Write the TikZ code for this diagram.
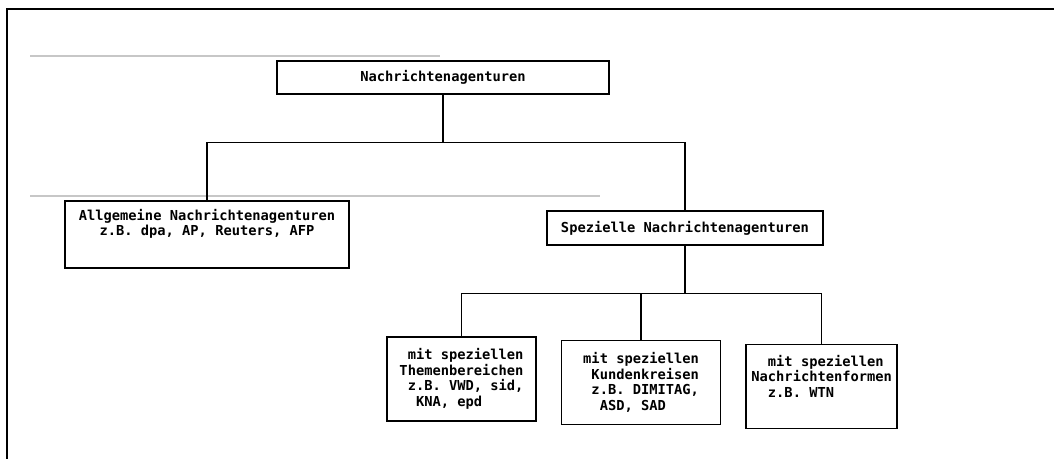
\documentclass[tikz,border=0pt]{standalone}
\usepackage{fontspec}
\setmonofont{DejaVu Sans Mono}
\usepackage{tikz}
\usetikzlibrary{positioning}
\newcommand{\chsp}{\phantom{x}}

\begin{document}
\begin{tikzpicture}[x=0.75pt, y=-0.75pt, line width=1pt, font=\ttfamily\bfseries\fontsize{10.3}{11.6}\selectfont]
  \tikzstyle{box} = [rectangle, draw, line width=1.2pt, inner sep=0pt, align=center]
  \tikzstyle{leaf} = [box, align=left, minimum width=111.75pt, minimum height=63pt]
  \tikzstyle{scanline} = [draw=black!22, line width=1.1pt]

  \useasboundingbox (0,0) rectangle (1054,459);
  \draw[line width=1.8pt] (7,459) -- (7,9) -- (1054,9);
  \draw[scanline] (30,56) -- (440,56);
  \draw[scanline] (30,196) -- (600,196);

  \node[box, minimum width=249pt, minimum height=24.75pt] (Agenturen) at (443,77.5) {Nachrichtenagenturen};
  \node[box, minimum width=213pt, minimum height=50.25pt] (Allgemeine) at (207,234.5) {Allgemeine Nachrichtenagenturen\\z.B. dpa, AP, Reuters, AFP\\[3pt] \strut};
  \node[box, minimum width=207pt, minimum height=25.5pt] (Spezielle) at (685,228) {Spezielle Nachrichtenagenturen};
  \node[leaf] (Themen) at (461.5,379) {\chsp mit speziellen\\Themenbereichen\\\chsp z.B. VWD, sid,\\\chsp\chsp KNA, epd};
  \node[leaf, minimum width=119.25pt] (Kunden) [right=18pt of Themen, yshift=-2.6pt] {mit speziellen\\\chsp Kundenkreisen\\\chsp z.B. DIMITAG,\\\chsp\chsp ASD, SAD};
  \node[leaf, minimum width=113.25pt] (Formen) [right=18pt of Kunden, yshift=-3pt] {\chsp\chsp mit speziellen\\Nachrichtenformen\\\chsp\chsp z.B. WTN\\ \strut};

  \draw (Agenturen.south) -- ++(0,48) -| (Allgemeine.north);
  \draw (Agenturen.south) -- ++(0,48) -| (Spezielle.north);
  \draw (Spezielle.south) -- ++(0,48) -| (Themen.north);
  \draw (Spezielle.south) -- ++(0,48) -| (Kunden.north);
  \draw (Spezielle.south) -- ++(0,48) -| (Formen.north);
\end{tikzpicture}
\end{document}
